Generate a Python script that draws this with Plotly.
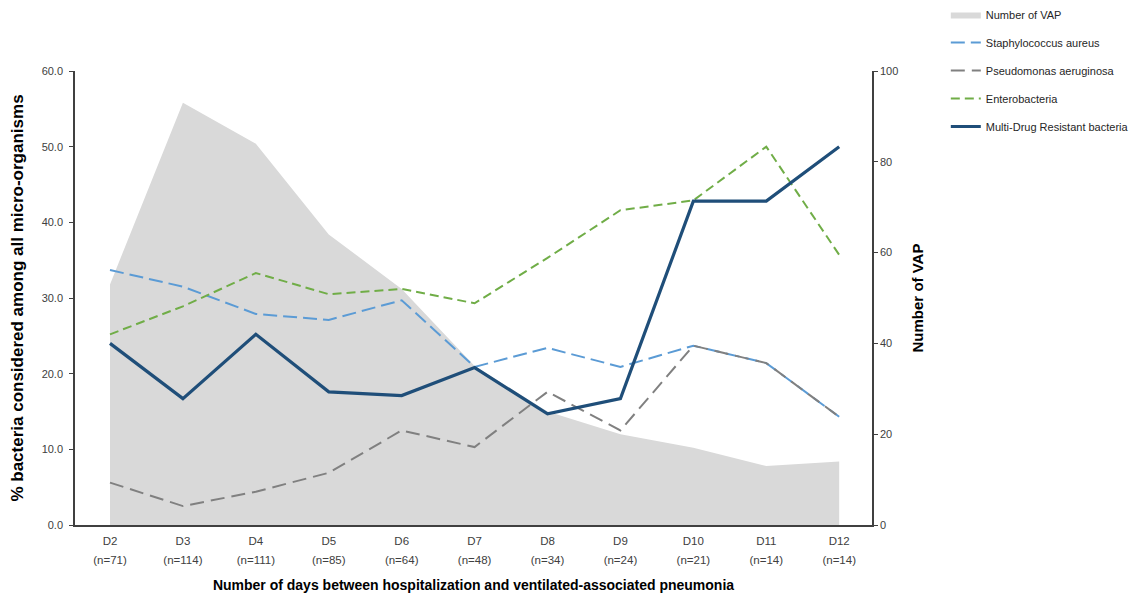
import plotly.graph_objects as go

days = ["D2", "D3", "D4", "D5", "D6", "D7", "D8", "D9", "D10", "D11", "D12"]
n_counts = [71, 114, 111, 85, 64, 48, 34, 24, 21, 14, 14]
tick_text = [
    f"<span style='font-size:11.5px'>{d}</span><br><span style='font-size:11.5px'>(n={n})</span>"
    for d, n in zip(days, n_counts)
]

vap = [53, 93, 84, 64, 52, 35, 25, 20, 17, 13, 14]
staph = [33.7, 31.5, 27.9, 27.1, 29.7, 20.9, 23.4, 20.9, 23.7, 21.4, 14.3]
pseudo = [5.6, 2.5, 4.4, 6.9, 12.5, 10.3, 17.6, 12.5, 23.7, 21.4, 14.3]
entero = [25.2, 28.9, 33.3, 30.5, 31.2, 29.3, 35.3, 41.6, 42.9, 50.0, 35.7]
mdr = [24.0, 16.7, 25.2, 17.6, 17.1, 20.8, 14.7, 16.7, 42.8, 42.8, 50.0]

FONT = "Liberation Sans Narrow, Arial Narrow, Liberation Sans, Arial, sans-serif"

fig = go.Figure()

# Number of VAP as a grey area against the right-hand axis (drawn underneath)
fig.add_trace(go.Scatter(
    x=days, y=vap, name="Number of VAP", mode="lines",
    line=dict(width=0, color="#d9d9d9"), fill="tozeroy", fillcolor="#d9d9d9",
    yaxis="y", legendgroup="a",
))

# Percentage series on the left-hand axis
series = [
    ("Staphylococcus aureus", staph, "#5b9bd5", "14px,6px", 2),
    ("Pseudomonas aeruginosa", pseudo, "#808080", "14px,7px", 2),
    ("Enterobacteria", entero, "#70ad47", "9px,5px", 2),
    ("Multi-Drug Resistant bacteria", mdr, "#1f4e79", "solid", 3.2),
]
for i, (name, vals, color, dash, width) in enumerate(series):
    fig.add_trace(go.Scatter(
        x=days, y=vals, name=name, mode="lines",
        line=dict(color=color, dash=dash, width=width),
        yaxis="y2", legendgroup=f"g{i}",
    ))

fig.update_layout(
    width=1130, height=593,
    margin=dict(l=75, r=258, t=71, b=68),
    paper_bgcolor="white", plot_bgcolor="white",
    font=dict(family=FONT, color="#404040", size=11),
    showlegend=True,
    legend=dict(
        xref="container", yref="container",
        x=0.837, xanchor="left", y=1.0, yanchor="top",
        font=dict(size=11, color="#262626"),
        tracegroupgap=9, traceorder="grouped",
        bgcolor="rgba(0,0,0,0)",
    ),
    xaxis=dict(
        tickmode="array", tickvals=days, ticktext=tick_text,
        range=[-0.48, 10.45], showgrid=False, zeroline=False,
        showline=True, linecolor="#404040", linewidth=1.5,
        ticks="", tickfont=dict(size=15, color="#404040"),
        automargin=False,
        title=dict(
            text="<b>Number of days between hospitalization and ventilated-associated pneumonia</b>",
            font=dict(size=14, color="#000000"), standoff=16,
        ),
    ),
    yaxis=dict(
        range=[0, 100], side="right", tickvals=[0, 20, 40, 60, 80, 100],
        showgrid=False, zeroline=False, showline=True, linecolor="#404040",
        linewidth=1.5, ticks="outside", ticklen=4, tickcolor="#404040",
        tickfont=dict(size=11, color="#404040"), automargin=False,
        title=dict(text="<b>Number of VAP</b>", font=dict(size=15, color="#000000"), standoff=15),
    ),
    yaxis2=dict(
        range=[0, 60], side="left", overlaying="y", anchor="x",
        tickvals=[0, 10, 20, 30, 40, 50, 60],
        ticktext=["0.0", "10.0", "20.0", "30.0", "40.0", "50.0", "60.0"],
        showgrid=False, zeroline=False, showline=True, linecolor="#404040",
        linewidth=1.5, ticks="outside", ticklen=4, tickcolor="#404040",
        ticklabelstandoff=4,
        tickfont=dict(size=11, color="#404040"), automargin=False,
        title=dict(text="<b>% bacteria considered among all micro-organisms</b>",
                   font=dict(size=17, color="#000000"), standoff=14),
    ),
)

fig.write_html("out.html")
